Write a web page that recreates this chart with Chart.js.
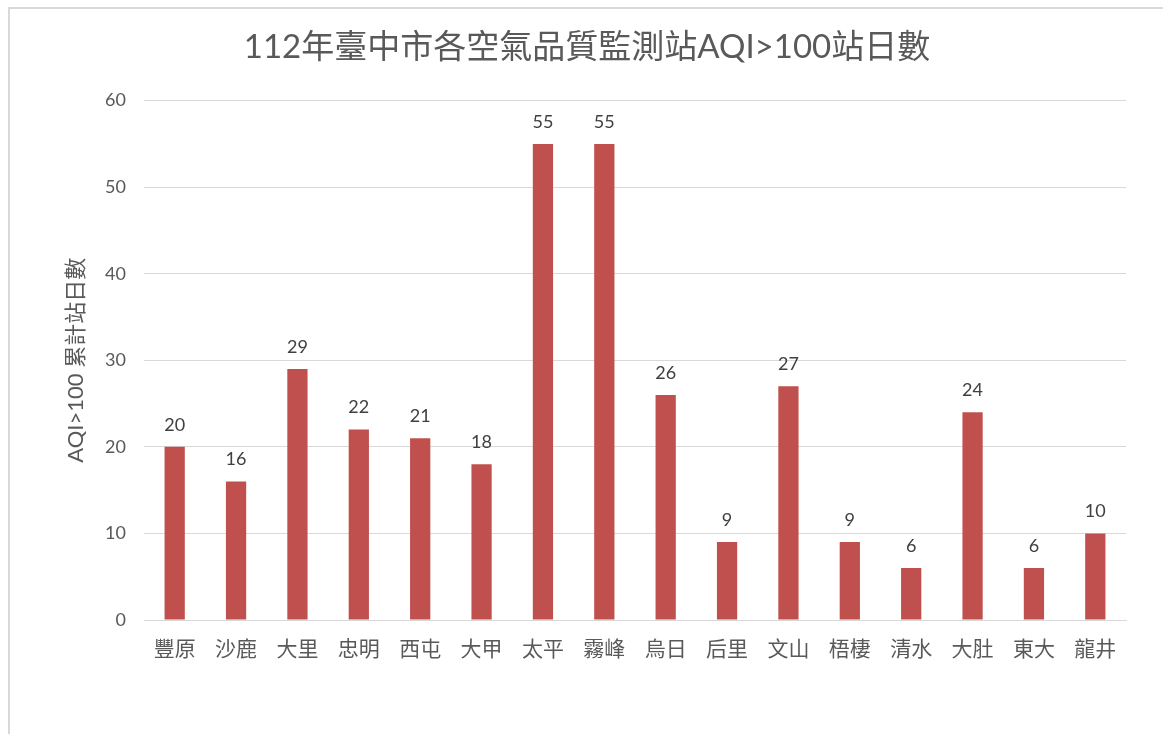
<!DOCTYPE html>
<html>
<head>
<meta charset="utf-8">
<script src="https://cdn.jsdelivr.net/npm/chart.js@4"></script>
<style>
  html, body { margin: 0; padding: 0; background: #fff; }
  #wrap { width: 1163px; height: 734px; }
</style>
</head>
<body>
<div id="wrap"><canvas id="aqiChart" width="1163" height="734"></canvas></div>
<script>
// data
const stations = ['豐原', '沙鹿', '大里', '忠明', '西屯', '大甲', '太平', '霧峰', '烏日', '后里', '文山', '梧棲', '清水', '大肚', '東大', '龍井'];
const days = [20, 16, 29, 22, 21, 18, 55, 55, 26, 9, 27, 9, 6, 24, 6, 10];
const yTicks = [0, 10, 20, 30, 40, 50, 60];

const FONT = 'Lato, "Noto Sans CJK TC", sans-serif';

// outer frame like the spreadsheet chart box
const frame = {
    id: 'frame',
    beforeDraw(chart) {
        const c = chart.ctx;
        c.save();
        c.fillStyle = '#fff';
        c.fillRect(0, 0, chart.width, chart.height);
        c.strokeStyle = '#d9d9d9';
        c.lineWidth = 2;
        c.strokeRect(9, 8, 1300, 900);
        c.restore();
    }
};

// value labels on top of the bars
const barValues = {
    id: 'barValues',
    afterDatasetsDraw(chart) {
        const c = chart.ctx;
        const meta = chart.getDatasetMeta(0);
        c.save();
        c.font = '18px ' + FONT;
        c.fillStyle = '#404040';
        c.textAlign = 'center';
        c.textBaseline = 'bottom';
        meta.data.forEach(function (bar, i) {
            c.fillText(days[i], bar.x, bar.y - 13);
        });
        c.restore();
    }
};

const ctx = document.getElementById('aqiChart');
new Chart(ctx, {
    type: 'bar',
    data: {
        labels: stations,
        datasets: [{
            data: days,
            backgroundColor: '#c0504d',
            categoryPercentage: 1,
            barPercentage: 0.33
        }]
    },
    options: {
        responsive: false,
        animation: false,
        layout: { padding: { left: 48, right: 37, top: 0, bottom: 69 } },
        plugins: {
            legend: { display: false },
            tooltip: { enabled: false },
            title: {
                display: true,
                text: '112年臺中市各空氣品質監測站AQI>100站日數',
                color: '#595959',
                font: { family: FONT, size: 33, weight: 'normal' },
                padding: { top: 28, bottom: 33 }
            }
        },
        scales: {
            x: {
                grid: { display: false, drawTicks: false },
                border: { display: true, color: '#d9d9d9', width: 1 },
                ticks: { color: '#595959', padding: 17, font: { family: FONT, size: 21 }, maxRotation: 0 },
                afterFit: function (s) { s.height = 45; }
            },
            y: {
                min: 0,
                max: 60,
                afterBuildTicks: function (s) { s.ticks = yTicks.map(v => ({ value: v })); },
                grid: { color: '#d9d9d9', drawTicks: false },
                border: { display: false },
                ticks: { color: '#595959', padding: 18, font: { family: FONT, size: 18 } },
                title: {
                    display: true,
                    text: 'AQI>100 累計站日數',
                    color: '#595959',
                    font: { family: FONT, size: 22, weight: 'normal' },
                    padding: { top: 15, bottom: 0 }
                },
                afterFit: function (s) { s.width = 96; }
            }
        }
    },
    plugins: [frame, barValues]
});
</script>
</body>
</html>
